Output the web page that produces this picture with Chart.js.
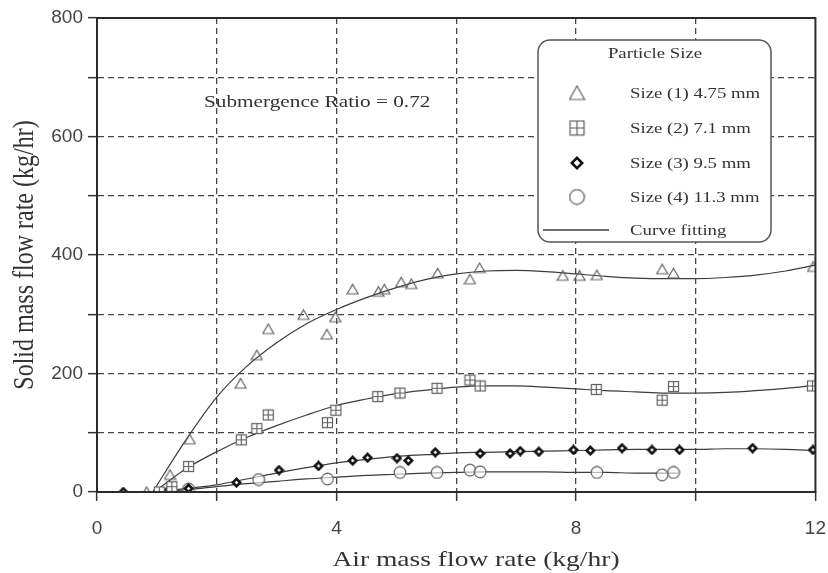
<!DOCTYPE html>
<html>
<head>
<meta charset="utf-8">
<script src="https://cdn.jsdelivr.net/npm/chart.js@4.4.0/dist/chart.umd.min.js"></script>
<style>
  html, body { margin: 0; padding: 0; background: #fff; }
  #wrap { width: 828px; height: 573px; }
</style>
</head>
<body>
<div id="wrap"><canvas id="myChart" width="828" height="573"></canvas></div>
<script>
const size1X = [0.83, 1.22, 1.55, 2.40, 2.67, 2.86, 3.45, 3.84, 3.98, 4.27, 4.70, 4.80, 5.08, 5.25, 5.69, 6.23, 6.39, 7.78, 8.06, 8.35, 9.44, 9.63, 11.96];
const size1Y = [0, 29, 89, 183, 231, 275, 299, 266, 295, 342, 338, 342, 354, 351, 369, 359, 378, 365, 365, 366, 376, 369, 380];

const size2X = [1.04, 1.25, 1.53, 2.41, 2.67, 2.86, 3.85, 3.99, 4.69, 5.06, 5.68, 6.23, 6.40, 8.34, 9.44, 9.63, 11.95];
const size2Y = [0, 9, 43, 88, 107, 130, 117, 138, 161, 167, 175, 189, 179, 173, 155, 178, 179];

const size3X = [0.44, 1.20, 1.53, 2.33, 3.04, 3.70, 4.27, 4.52, 5.01, 5.20, 5.65, 6.40, 6.90, 7.07, 7.38, 7.96, 8.24, 8.77, 9.27, 9.73, 10.95, 11.96];
const size3Y = [0, 3, 6, 16, 37, 44, 53, 58, 57, 53, 67, 65, 65, 69, 68, 71, 70, 74, 71, 71, 74, 71];

const size4X = [1.25, 1.53, 2.70, 3.85, 5.06, 5.68, 6.23, 6.40, 8.35, 9.44, 9.63];
const size4Y = [0, 5, 21, 22, 33, 33, 37, 34, 33, 29, 33];

// fitted curves
const fit1X = [0.93, 1.5, 2, 2.5, 3, 3.5, 4, 4.5, 5, 5.5, 6, 6.5, 7, 7.5, 8, 8.5, 9, 9.5, 10, 10.5, 11, 11.5, 12];
const fit1Y = [0, 90, 160, 212, 252, 284, 308, 328, 345, 359, 368, 373, 374, 372, 368, 364, 361, 360, 360, 362, 366, 373, 383];

const fit2X = [0.95, 1.5, 2, 2.5, 3, 3.5, 4, 4.5, 5, 5.5, 6, 6.5, 7, 7.5, 8, 8.5, 9, 9.5, 10, 10.5, 11, 11.5, 12];
const fit2Y = [0, 40, 68, 92, 112, 130, 146, 157, 166, 172, 177, 179, 179, 177, 174, 171, 169, 167, 167, 168, 171, 175, 180];

const fit3X = [1.0, 1.5, 2, 2.5, 3, 3.5, 4, 4.5, 5, 5.5, 6, 6.5, 7, 7.5, 8, 8.5, 9, 9.5, 10, 10.5, 11, 11.5, 12];
const fit3Y = [0, 6, 12, 22, 32, 41, 49, 55, 60, 63, 66, 67, 68, 69, 70, 71, 72, 72, 72, 73, 73, 72, 70];

const fit4X = [1.0, 1.5, 2, 2.5, 3, 3.5, 4, 4.5, 5, 5.5, 6, 6.5, 7, 7.5, 8, 8.5, 9, 9.5, 9.7];
const fit4Y = [0, 4, 9, 14, 18, 22, 25, 28, 30, 32, 33, 34, 34, 34, 33, 33, 32, 32, 32];

const seriesNames = ['Size (1) 4.75 mm', 'Size (2) 7.1 mm', 'Size (3) 9.5 mm', 'Size (4) 11.3 mm'];

function toPoints(xs, ys) {
  return xs.map((x, i) => ({ x: x, y: ys[i] }));
}

// little canvases used as point styles
function marker(kind, s) {
  const c = document.createElement('canvas');
  c.width = s; c.height = s;
  const g = c.getContext('2d');
  const m = s / 2;
  if (kind === 'tri') {
    g.strokeStyle = '#606060'; g.lineWidth = 1.2;
    g.beginPath();
    g.moveTo(m, 1.5); g.lineTo(s - 1, s - 2); g.lineTo(1, s - 2); g.closePath();
    g.stroke();
  } else if (kind === 'box') {
    g.strokeStyle = '#606060'; g.lineWidth = 1.2;
    g.fillStyle = '#fff';
    g.fillRect(1.5, 1.5, s - 3, s - 3);
    g.strokeRect(1.5, 1.5, s - 3, s - 3);
    g.beginPath();
    g.moveTo(m, 1.5); g.lineTo(m, s - 1.5);
    g.moveTo(1.5, m); g.lineTo(s - 1.5, m);
    g.stroke();
  } else if (kind === 'dia') {
    g.fillStyle = '#fff';
    g.strokeStyle = '#111'; g.lineWidth = 2.6;
    g.beginPath();
    g.moveTo(m, 1.8); g.lineTo(s - 1.8, m); g.lineTo(m, s - 1.8); g.lineTo(1.8, m); g.closePath();
    g.fill(); g.stroke();
  } else {
    g.strokeStyle = '#606060'; g.lineWidth = 1.2;
    g.fillStyle = 'rgba(255,255,255,0.6)';
    g.beginPath();
    g.arc(m, m, m - 1.2, 0, Math.PI * 2);
    g.fill(); g.stroke();
  }
  return c;
}

const plotMarks = [marker('tri', 13), marker('box', 13), marker('dia', 11), marker('circ', 14)];
const keyMarks = [marker('tri', 17), marker('box', 17), marker('dia', 14), marker('circ', 17)];

const fitStyle = {
  type: 'line',
  showLine: true,
  pointRadius: 0,
  borderColor: '#3c3c3c',
  borderWidth: 1.2,
  fill: false,
  cubicInterpolationMode: 'monotone'
};

const axisFont = { family: '"Liberation Sans", Arial, sans-serif', size: 19 };
const serif = '"Liberation Serif", "Times New Roman", serif';
const stretch = 1.25; // the source figure is widened a bit

// serif text, widened like the original
function wideText(ctx, txt, x, y, align) {
  ctx.save();
  ctx.translate(x, y);
  ctx.scale(stretch, 1);
  ctx.textAlign = align || 'left';
  ctx.fillText(txt, 0, 0);
  ctx.restore();
}

// legend box, annotation, frame and axis titles
const extras = {
  id: 'extras',
  afterDatasetsDraw(chart) {
    const ctx = chart.ctx;
    const a = chart.chartArea;
    ctx.save();
    // frame
    ctx.strokeStyle = '#2a2a2a';
    ctx.lineWidth = 2;
    ctx.strokeRect(a.left, a.top, a.right - a.left, a.bottom - a.top);

    // annotation
    ctx.fillStyle = '#333';
    ctx.font = '17px ' + serif;
    ctx.textBaseline = 'middle';
    wideText(ctx, 'Submergence Ratio = 0.72', 204, 103);

    // legend
    const bx = 538, by = 40, bw = 233, bh = 202, r = 12;
    ctx.beginPath();
    ctx.roundRect(bx, by, bw, bh, r);
    ctx.fillStyle = '#fff';
    ctx.fill();
    ctx.strokeStyle = '#555';
    ctx.lineWidth = 1.5;
    ctx.stroke();

    ctx.fillStyle = '#333';
    ctx.font = '15px ' + serif;
    wideText(ctx, 'Particle Size', 655, 54, 'center');
    const rows = [93, 128, 163, 197];
    seriesNames.forEach((name, i) => {
      const im = keyMarks[i];
      ctx.drawImage(im, 577 - im.width / 2, rows[i] - im.height / 2);
      wideText(ctx, name, 630, rows[i] + 1);
    });
    ctx.strokeStyle = '#3c3c3c';
    ctx.lineWidth = 1.3;
    ctx.beginPath();
    ctx.moveTo(543, 230); ctx.lineTo(609, 230);
    ctx.stroke();
    wideText(ctx, 'Curve fitting', 630, 231);

    // axis titles
    ctx.font = '22px ' + serif;
    wideText(ctx, 'Air mass flow rate (kg/hr)', 476, 560, 'center');
    ctx.translate(25, 255);
    ctx.rotate(-Math.PI / 2);
    ctx.scale(1, stretch);
    ctx.font = '24px ' + serif;
    ctx.textAlign = 'center';
    ctx.fillText('Solid mass flow rate (kg/hr)', 0, 0);
    ctx.restore();
  }
};

const ctx = document.getElementById('myChart').getContext('2d');
const chart = new Chart(ctx, {
  type: 'scatter',
  data: {
    datasets: [
      { label: seriesNames[0], data: toPoints(size1X, size1Y), pointStyle: plotMarks[0], pointRadius: 7 },
      { label: seriesNames[1], data: toPoints(size2X, size2Y), pointStyle: plotMarks[1], pointRadius: 7 },
      { label: seriesNames[2], data: toPoints(size3X, size3Y), pointStyle: plotMarks[2], pointRadius: 6 },
      { label: seriesNames[3], data: toPoints(size4X, size4Y), pointStyle: plotMarks[3], pointRadius: 7 },
      Object.assign({ label: 'fit1', data: toPoints(fit1X, fit1Y) }, fitStyle),
      Object.assign({ label: 'fit2', data: toPoints(fit2X, fit2Y) }, fitStyle),
      Object.assign({ label: 'fit3', data: toPoints(fit3X, fit3Y) }, fitStyle),
      Object.assign({ label: 'fit4', data: toPoints(fit4X, fit4Y) }, fitStyle)
    ]
  },
  options: {
    responsive: false,
    animation: false,
    layout: { padding: { top: 18, right: 12, left: 0, bottom: 0 } },
    plugins: {
      legend: { display: false },
      tooltip: { enabled: false }
    },
    scales: {
      x: {
        type: 'linear',
        min: 0,
        max: 12,
        ticks: {
          stepSize: 2,
          color: '#444',
          // tall line height pushes the labels down without widening the side padding
          font: Object.assign({ lineHeight: 2.7 }, axisFont),
          padding: 2,
          maxRotation: 0,
          callback: v => (v % 4 === 0 ? v : '')
        },
        grid: {
          color: c => (c.tick && (c.tick.value === 0 || c.tick.value === 12) ? 'rgba(0,0,0,0)' : '#444'),
          lineWidth: 1.3,
          tickLength: 9,
          tickColor: '#333',
          tickWidth: 1.5
        },
        border: { display: true, color: '#2a2a2a', width: 2, dash: [6, 4] },
        afterFit: s => { s.height = 81; }
      },
      y: {
        type: 'linear',
        min: 0,
        max: 800,
        ticks: {
          stepSize: 100,
          color: '#444',
          font: axisFont,
          padding: 5,
          callback: v => (v % 200 === 0 ? v : '')
        },
        grid: {
          color: c => (c.tick && (c.tick.value === 0 || c.tick.value === 800) ? 'rgba(0,0,0,0)' : '#444'),
          lineWidth: 1.3,
          tickLength: 9,
          tickColor: '#333',
          tickWidth: 1.5
        },
        border: { display: true, color: '#2a2a2a', width: 2, dash: [6, 4] },
        afterFit: s => { s.width = 97; }
      }
    }
  },
  plugins: [extras]
});
</script>
</body>
</html>
